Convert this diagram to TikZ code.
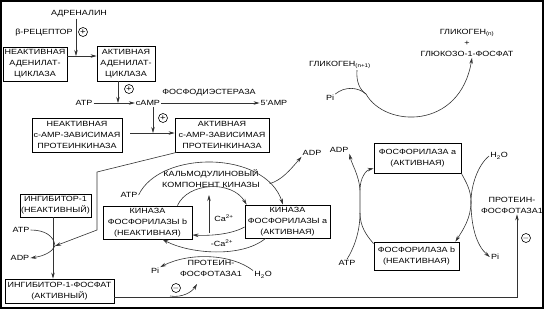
\documentclass[tikz,border=0pt]{standalone}
\usepackage{fontspec}
\setmainfont{Liberation Sans}[FakeStretch=1.2]
\usetikzlibrary{arrows.meta,positioning,calc}

\begin{document}
\begin{tikzpicture}[x=1pt,y=-1pt,
  box/.style={draw, line width=0.8pt, inner sep=1pt, align=center, font=\fontsize{7.5}{11}\selectfont},
  lbl/.style={inner sep=1pt, align=center, font=\fontsize{7.5}{11}\selectfont},
  arrow/.style={-{Stealth[length=6pt,width=3.5pt]}, line width=0.6pt, black!80},
  link/.style={line width=0.6pt, black!80},
  sign/.style={draw, circle, inner sep=0pt, minimum size=9pt, line width=0.6pt, font=\fontsize{8}{8}\selectfont}
]
\useasboundingbox (0,0) rectangle (544,309);
\draw[line width=1.2pt] (1,1) rectangle (543,308);

% adenylate cyclase
\node[lbl] (adr) at (79,14) {АДРЕНАЛИН};
\node[lbl] (brec) at (44,33) {β-РЕЦЕПТОР};
\node[sign] (s1) at (83,32) {+};
\node[box, minimum width=64pt, minimum height=34pt] (ac0) at (35,64) {НЕАКТИВНАЯ\\АДЕНИЛАТ-\\ЦИКЛАЗА};
\node[box, minimum width=58pt, minimum height=35pt] (ac1) at (126,63.5) {АКТИВНАЯ\\АДЕНИЛАТ-\\ЦИКЛАЗА};
\coordinate (j1) at (76,56);
\draw[arrow] (ac0.east |- j1) -- (ac1.west |- j1);
\draw[arrow] (j1 |- adr.south) -- (j1);

% cAMP
\node[lbl] (atp1) at (84,103) {ATP};
\node[lbl] (camp) at (148,103) {cAMP};
\node[lbl] (amp5) at (274,103) {5'AMP};
\node[lbl] (pde) at (209,93) {ФОСФОДИЭСТЕРАЗА};
\node[sign] (s2) at (129,89) {+};
\draw[arrow] (atp1) -- (camp);
\draw[arrow] (camp) -- (amp5);
\coordinate (j2) at (118,103);
\draw[arrow] (j2 |- ac1.south) -- (j2);

% protein kinase A
\node[box, minimum width=90pt, minimum height=34pt] (pk0) at (77,135) {НЕАКТИВНАЯ\\c-AMP-ЗАВИСИМАЯ\\ПРОТЕИНКИНАЗА};
\node[box, minimum width=94pt, minimum height=34pt] (pk1) at (222,135) {АКТИВНАЯ\\c-AMP-ЗАВИСИМАЯ\\ПРОТЕИНКИНАЗА};
\node[sign] (s3) at (163,118) {+};
\coordinate (j3) at (153,133);
\coordinate (j4) at (130,133);
\draw[arrow] (j4) -- (pk1.west |- j4);
\draw[arrow] (j3 |- camp.south) -- (j3);

% inhibitor-1
\node[box, minimum width=71pt, minimum height=23pt] (inh0) at (55.5,205.5) {ИНГИБИТОР-1\\(НЕАКТИВНЫЙ)};
\node[box, minimum width=109pt, minimum height=24pt] (inh1) at (59.5,291) {ИНГИБИТОР-1-ФОСФАТ\\(АКТИВНЫЙ)};
\node[lbl] (atp3) at (21,230) {ATP};
\node[lbl] (adp3) at (20,258) {ADP};
\coordinate (k1) at (97,172);
\coordinate (k2) at (97,230);
\coordinate (k3) at (55,246);
\coordinate (k4) at (53,0);
\draw[arrow] (k4 |- inh0.south) -- (k4 |- inh1.north);
\draw[link] ([xshift=2pt]pk1.south west) -- (k1) -- (k2);
\draw[arrow] (k2) -- (k3);
\draw[link] (atp3.east) .. controls (45,230) and (54,236) .. (k3);
\draw[arrow] (k3) .. controls (52,252) and (44,256) .. (adp3.east);

% protein phosphatase-1
\node[lbl] (pp1r) at (512,205) {ПРОТЕИН-\\ФОСФОТАЗА1};
\coordinate (c1) at (517,297);
\draw[arrow] (inh1.east |- c1) -- (c1) -- (c1 |- pp1r.south);
\node[sign] (s4) at (526,238) {$-$};
\node[lbl] (pp1b) at (211,268) {ПРОТЕИН-\\ФОСФОТАЗА1};
\node[sign] (s5) at (176,288) {$-$};
\coordinate (c2) at (170,296);
\coordinate (c3) at (197,284);
\draw[arrow] (c2) .. controls (182,298) and (192,292) .. (c3);

% phosphorylase kinase
\node[box, minimum width=89pt, minimum height=33pt] (kb) at (147.5,222.5) {КИНАЗА\\ФОСФОРИЛАЗЫ b\\(НЕАКТИВНАЯ)};
\node[box, minimum width=85pt, minimum height=33pt] (ka) at (287.5,221.5) {КИНАЗА\\ФОСФОРИЛАЗЫ a\\(АКТИВНАЯ)};
\node[lbl] (cal) at (211,178.5) {КАЛЬМОДУЛИНОВЫЙ\\КОМПОНЕНТ КИНАЗЫ};
\node[lbl] (atp2) at (129,195) {ATP};
\node[lbl] (adp1) at (312,153) {ADP};
\node[lbl] (ca1) at (224,218) {Ca\textsuperscript{2+}};
\node[lbl] (ca2) at (222,243) {-Ca\textsuperscript{2+}};
\node[lbl] (pi1) at (155,271) {Pi};
\node[lbl] (h2o1) at (263,275) {H\textsubscript{2}O};
\draw[arrow] (atp2.east) .. controls (160,150) and (265,150) .. ([xshift=-4.5pt]ka.north) coordinate[pos=0.85] (br1);
\draw[arrow] (br1) .. controls (282,180) and (290,170) .. (adp1.south west);
\draw[arrow] ([xshift=-15pt]kb.north east) .. controls (188,182) and (232,180) .. ([xshift=2pt]ka.north west);
\coordinate (q1) at (209,233);
\coordinate (q2) at (209,195);
\draw[arrow] (q1) -- (q2);
\draw[arrow] ([yshift=-5.5pt]ka.west) .. controls (232,234) and (212,236) .. ([yshift=-12.5pt]kb.east);
\draw[arrow] ([xshift=-22pt]ka.south) .. controls (242,258) and (190,254) .. ([xshift=15pt]kb.south);
\draw[arrow] (h2o1.north west) .. controls (232,254) and (190,252) .. (pi1.north east);

% glycogen phosphorylase
\node[box, minimum width=87pt, minimum height=30pt] (fa) at (417.5,158) {ФОСФОРИЛАЗА a\\(АКТИВНАЯ)};
\node[box, minimum width=85pt, minimum height=28pt] (fb) at (416.5,256) {ФОСФОРИЛАЗА b\\(НЕАКТИВНАЯ)};
\node[lbl] (adp2) at (339,150) {ADP};
\node[lbl] (atp4) at (347,263) {ATP};
\node[lbl] (h2o2) at (499,156) {H\textsubscript{2}O};
\node[lbl] (pi3) at (495,257) {Pi};
\coordinate (m1) at (360,213);
\coordinate (m2) at (360,190);
\draw[link] ([yshift=-2pt]fb.north west) .. controls (366,235) and (360,226) .. (m1) -- (m2);
\draw[link] (atp4.north) .. controls (354,248) and (360,232) .. (m1);
\draw[arrow] (m2) .. controls (360,178) and (366,170) .. ([yshift=5pt]fa.south west);
\draw[arrow] (m2) .. controls (359,175) and (352,165) .. (adp2.south east);
\coordinate (r1) at (471,202);
\draw[link] (fa.south east) .. controls (466,182) and (471,190) .. (r1);
\draw[arrow] (r1) .. controls (471,218) and (463,230) .. ([xshift=-4pt]fb.north east);
\draw[link] (h2o2.west) .. controls (478,165) and (471,185) .. (r1);
\draw[arrow] (r1) .. controls (471,225) and (476,245) .. (pi3.west);

% glycogen
\node[lbl] (gn1) at (340,65) {ГЛИКОГЕН\textsubscript{(n+1)}};
\node[lbl] (prod) at (467,43) {ГЛИКОГЕН\textsubscript{(n)}\\+\\ГЛЮКОЗО-1-ФОСФАТ};
\node[lbl] (pi2) at (330,98) {Pi};
\coordinate (g1) at (366,94);
\draw[link] ([xshift=17pt]gn1.south) .. controls (356,82) and (360,90) .. (g1);
\draw[link] (pi2.north east) .. controls (345,86) and (358,87) .. (g1);
\draw[arrow] (g1) .. controls (385,128) and (460,130) .. ([xshift=5pt]prod.south);
\end{tikzpicture}
\end{document}
